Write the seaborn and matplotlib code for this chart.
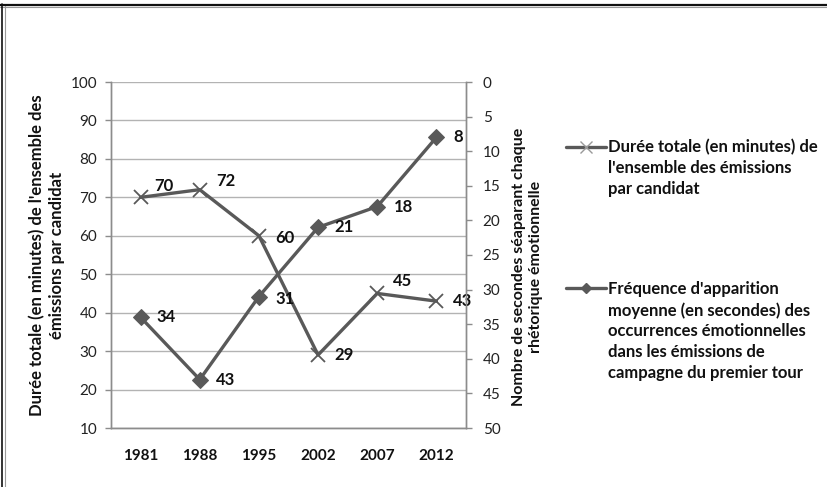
import matplotlib
matplotlib.use("Agg")
import matplotlib.pyplot as plt
from matplotlib.lines import Line2D
import numpy as np
import seaborn as sns
import pandas as pd

years = ["1981", "1988", "1995", "2002", "2007", "2012"]
duree_totale = [70, 72, 60, 29, 45, 43]
frequence = [34, 43, 31, 21, 18, 8]

label_duree = "Durée totale (en minutes) de\nl'ensemble des émissions\npar candidat"
label_freq = ("Fréquence d'apparition\nmoyenne (en secondes) des\noccurrences émotionnelles\n"
              "dans les émissions de\ncampagne du premier tour")
left_title = "Durée totale (en minutes) de l'ensemble des\némissions par candidat"
right_title = "Nombre de secondes séaparant chaque\nrhétorique émotionnelle"

sns.set_theme(style="white")
plt.rcParams["font.family"] = ["Lato", "DejaVu Sans"]

LINE = "#595959"
GRID = "#b3b3b3"
AXIS = "#8c8c8c"
TXT = "#111111"
FS_TICK = 11
FS_TEXT = 12

df = pd.DataFrame({"annee": years, "duree": duree_totale, "freq": frequence})

fig = plt.figure(figsize=(8.28, 4.87), dpi=100)
ax = fig.add_axes([111 / 828, 1 - 428 / 487, 355 / 828, 346 / 487])
ax2 = ax.twinx()

sns.lineplot(data=df, x="annee", y="duree", ax=ax, color=LINE, linewidth=2.4,
             marker="x", markersize=10, markeredgewidth=1.3, markeredgecolor=LINE,
             sort=False)
sns.lineplot(data=df, x="annee", y="freq", ax=ax2, color=LINE, linewidth=2.4,
             marker="D", markersize=8, markeredgecolor=LINE, markerfacecolor=LINE,
             sort=False)

ax.set_xlim(-0.5, 5.5)
ax.set_ylim(10, 100)
ax.set_yticks(range(10, 101, 10))
ax2.set_ylim(50, 0)
ax2.set_yticks(range(0, 51, 5))

ax.grid(axis="y", color=GRID, linewidth=1)
ax.set_axisbelow(True)
for a in (ax, ax2):
    a.spines["top"].set_visible(False)
    for side in ("left", "right", "bottom"):
        a.spines[side].set_color(AXIS)
        a.spines[side].set_linewidth(1)

ax.tick_params(axis="y", left=True, length=4, width=1, color=AXIS, labelsize=FS_TICK,
               labelcolor="#222222", pad=6)
ax.tick_params(axis="x", bottom=False, labelsize=FS_TICK, pad=9, labelcolor=TXT)
ax2.tick_params(axis="y", right=True, length=4, width=1, color=AXIS, labelsize=FS_TICK,
                labelcolor="#222222", pad=8)
for t in ax.get_xticklabels():
    t.set_fontweight("bold")

ax.set_xlabel("")
ax.set_ylabel(left_title, fontsize=FS_TEXT, fontweight="bold", labelpad=4,
              linespacing=1.3, color=TXT)
ax2.set_ylabel(right_title, fontsize=11.5, fontweight="bold", labelpad=8,
               linespacing=1.3, color=TXT)
ax2.yaxis.label.set_y(0.465)

# value labels (offsets in points from each marker)
duree_offsets = [(10, 8), (12, 6), (12, -1.5), (12, 0), (11, 9), (12, 0)]
freq_offsets = [(11.5, 0), (12, 0), (12, -2), (12, 0), (12, 0), (12, 0)]
for i, (v, off) in enumerate(zip(duree_totale, duree_offsets)):
    ax.annotate(str(v), (i, v), xytext=off, textcoords="offset points",
                fontsize=FS_TEXT, fontweight="bold", ha="left", va="center", color=TXT)
for i, (v, off) in enumerate(zip(frequence, freq_offsets)):
    ax2.annotate(str(v), (i, v), xytext=off, textcoords="offset points",
                 fontsize=FS_TEXT, fontweight="bold", ha="left", va="center", color=TXT)

h1 = Line2D([], [], color=LINE, linewidth=2.4, marker="x", markersize=8,
            markeredgewidth=1.0, markeredgecolor="#999999")
h2 = Line2D([], [], color=LINE, linewidth=2.4, marker="D", markersize=5,
            markerfacecolor=LINE, markeredgecolor=LINE)
legend_style = dict(frameon=False, handlelength=2.4, handletextpad=0.15,
                    borderaxespad=0, borderpad=0,
                    prop={"weight": "bold", "size": FS_TEXT})
LINE_STEP = 15.8  # points between legend text lines
for handle, label, top in ((h1, label_duree, 139), (h2, label_freq, 281)):
    leg = fig.legend(handles=[handle], labels=[label], loc="upper left",
                     bbox_to_anchor=(566 / 828, 1 - top / 487), **legend_style)
    nlines = label.count("\n") + 1
    for t in leg.get_texts():
        t.set_linespacing(1.37)
        t.set_color(TXT)
    # put the legend key level with the first text line
    for lh in leg.legend_handles:
        lh.set_ydata(np.asarray(lh.get_ydata()) + (nlines - 1) / 2 * LINE_STEP)

# frame edges of the chart area
fig.add_artist(Line2D([0, 1], [1 - 4.5 / 487, 1 - 4.5 / 487], transform=fig.transFigure,
                      color="#111111", linewidth=1.6))
fig.add_artist(Line2D([0, 1], [1 - 6.5 / 487, 1 - 6.5 / 487], transform=fig.transFigure,
                      color="#9a9a9a", linewidth=0.8))
fig.add_artist(Line2D([2.5 / 828, 2.5 / 828], [0, 1 - 4 / 487], transform=fig.transFigure,
                      color="#111111", linewidth=1.2))
fig.add_artist(Line2D([5 / 828, 5 / 828], [0, 1 - 6 / 487], transform=fig.transFigure,
                      color="#9a9a9a", linewidth=0.8))

fig.savefig("out.png", dpi=100, facecolor="white")
